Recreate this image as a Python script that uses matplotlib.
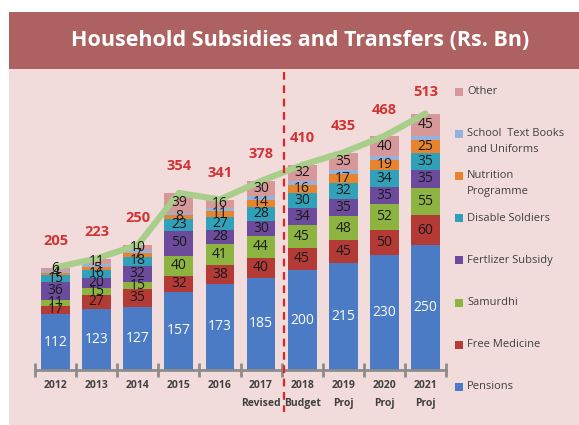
import numpy as np
import matplotlib
matplotlib.use('Agg')
import matplotlib.pyplot as plt
from matplotlib.patches import Rectangle
import matplotlib.transforms as mtransforms

plt.rcParams['font.family'] = ['Open Sans', 'DejaVu Sans']

# Rs. Bn per year
years = ['2012', '2013', '2014', '2015', '2016', '2017\nRevised', '2018\nBudget',
         '2019\nProj', '2020\nProj', '2021\nProj']
pensions = [112, 123, 127, 157, 173, 185, 200, 215, 230, 250]
free_medicine = [17, 27, 35, 32, 38, 40, 45, 45, 50, 60]
samurdhi = [11, 15, 15, 40, 41, 44, 45, 48, 52, 55]
fertilizer = [36, 20, 32, 50, 28, 30, 34, 35, 35, 35]
soldiers = [15, 16, 18, 23, 27, 28, 30, 32, 34, 35]
nutrition = [4, 5, 7, 8, 11, 14, 16, 17, 19, 25]
school_books = [4, 6, 6, 5, 7, 7, 8, 8, 8, 8]
other = [6, 11, 10, 39, 16, 30, 32, 35, 40, 45]
totals = [205, 223, 250, 354, 341, 378, 410, 435, 468, 513]

series = [
    ('Pensions', pensions, '#4a7bc4', 'white', True),
    ('Free Medicine', free_medicine, '#b43a36', '#1a1a1a', True),
    ('Samurdhi', samurdhi, '#8db440', '#1a1a1a', True),
    ('Fertlizer Subsidy', fertilizer, '#6d4b9c', '#1a1a1a', True),
    ('Disable Soldiers', soldiers, '#31a1b9', '#1a1a1a', True),
    ('Nutrition\nProgramme', nutrition, '#e8832e', '#1a1a1a', True),
    ('School  Text Books\nand Uniforms', school_books, '#93b2dc', '#1a1a1a', False),
    ('Other', other, '#d69898', '#1a1a1a', True),
]

W, H = 579, 425
fig = plt.figure(figsize=(W / 100, H / 100), dpi=100, facecolor='white')

def fx(px):
    return px / W

def fy(py):
    return 1 - py / H

# background panels (kept underneath the axes)
fig.patches.append(Rectangle((fx(9), 0), 1 - fx(9), fy(69), transform=fig.transFigure,
                             facecolor='#f2dcdb', edgecolor='none', zorder=-10))
fig.patches.append(Rectangle((fx(9), fy(69)), 1 - fx(9), fy(12) - fy(69),
                             transform=fig.transFigure, facecolor='#ad6161',
                             edgecolor='none', zorder=-10))
fig.text(fx(300), fy(40), 'Household Subsidies and Transfers (Rs. Bn)', color='white',
         fontsize=15.5, fontweight='bold', ha='center', va='center')

ax = fig.add_axes([fx(35), fy(370), fx(446) - fx(35), fy(85) - fy(370)])
ax.set_facecolor('none')
ymax = 570
ax.set_xlim(-0.5, len(years) - 0.5)
ax.set_ylim(0, ymax)

x = np.arange(len(years))
bottom = np.zeros(len(years))
for name, vals, col, tcol, show in series:
    vals = np.array(vals)
    ax.bar(x, vals, 0.7, bottom=bottom, color=col, zorder=2)
    if show:
        for xi, b, v in zip(x, bottom, vals):
            ax.text(xi, b + v / 2, str(v), ha='center', va='center', fontsize=10,
                    color=tcol, zorder=5)
    bottom += vals

ax.plot(x, totals, color='#a9cd8b', lw=4.5, solid_capstyle='round', zorder=4)
for xi, t in zip(x, totals):
    ax.text(xi, min(t + 53, ymax - 14), str(t), ha='center', va='center', fontsize=10.5,
            fontweight='bold', color='#d03434', zorder=5)

# dashed divider between actuals and budget/projections
trans = mtransforms.blended_transform_factory(ax.transData, ax.transAxes)
ax.plot([5.55, 5.55], [1.046, -0.147], transform=trans, color='#e52228', lw=1.6,
        ls=(0, (3.5, 2.5)), clip_on=False, zorder=6)

for s in ['top', 'right', 'left']:
    ax.spines[s].set_visible(False)
ax.spines['bottom'].set_color('#8c8c8c')
ax.spines['bottom'].set_linewidth(2)
ax.set_yticks([])
ax.set_xticks(x)
ax.set_xticklabels(years, fontsize=7.5, fontweight='bold', color='#404040', linespacing=1.9)
ax.tick_params(axis='x', which='major', length=0, pad=7)
ax.set_xticks(np.arange(-0.5, len(years), 1), minor=True)
ax.tick_params(axis='x', which='minor', length=10, width=2, direction='inout', color='#8c8c8c')

# legend, top entry first
for i, (name, vals, col, tcol, show) in enumerate(series[::-1]):
    ypx = 92 + i * 42.1
    fig.patches.append(Rectangle((fx(455), fy(ypx + 4)), fx(8), fy(0) - fy(8),
                                 transform=fig.transFigure, facecolor=col, edgecolor='none'))
    if '\n' in name:
        fig.text(fx(467), fy(ypx - 6.5), name, fontsize=8, color='#404040', ha='left',
                 va='top', linespacing=1.7)
    else:
        fig.text(fx(467), fy(ypx), name, fontsize=8, color='#404040', ha='left', va='center')

fig.savefig('out.png', dpi=100, facecolor=fig.get_facecolor())
